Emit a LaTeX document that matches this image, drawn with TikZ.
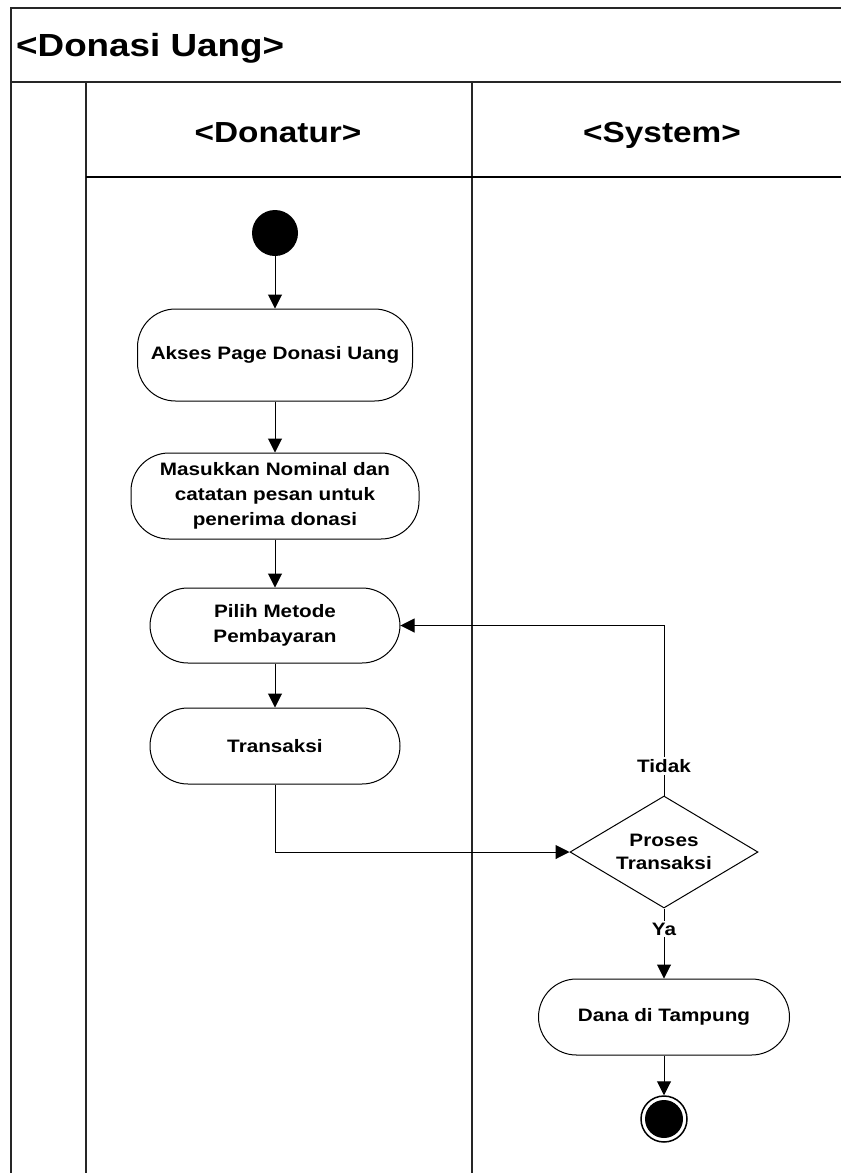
\documentclass[tikz,border=0pt]{standalone}
\usepackage{fontspec}
\setmainfont{Liberation Sans}[FakeStretch=1.15]
\usetikzlibrary{arrows.meta,shapes.geometric}
\begin{document}
\begin{tikzpicture}[x=1pt,y=-1pt,
  frame/.style={line width=1.6pt,draw=black!85},
  act/.style={draw,line width=1pt,rounded corners=38pt,align=center,font=\bfseries\fontsize{18}{25}\selectfont,inner sep=0pt},
  decision/.style={draw,line width=1pt,shape=diamond,aspect=1.68,minimum width=188pt,minimum height=112pt,inner sep=0pt,align=center,font=\bfseries\fontsize{18}{23}\selectfont},
  flow/.style={line width=1pt,-{Triangle[length=14pt,width=14pt]}},
  guard/.style={fill=white,font=\bfseries\fontsize{18}{22}\selectfont,inner sep=2pt},
  lanehead/.style={font=\bfseries\fontsize{29}{34}\selectfont,anchor=base,inner sep=0pt}]
\useasboundingbox (0,0) rectangle (841,1173);
% frame
\draw[frame] (11,1173) -- (11,8) -- (841,8);
\draw[frame] (11,82) -- (841,82);
\draw[frame] (86,82) -- (86,1173);
\draw[frame] (472,82) -- (472,1173);
\draw[line width=1.2pt] (86,177) -- (841,177);
% titles
\node[anchor=base west,inner sep=0pt,font=\bfseries\fontsize{32}{38}\selectfont] (title) at (16,56) {<Donasi Uang>};
\node[lanehead] (donatur) at (278,142) {<Donatur>};
\node[lanehead] (system) at (662,142) {<System>};
% nodes
\node[circle,fill=black,minimum size=46pt,inner sep=0pt] (start) at (275,233) {};
\node[act,minimum width=275pt,minimum height=92pt] (akses) at (275,355) {Akses Page Donasi Uang};
\node[act,minimum width=288pt,minimum height=86pt] (masuk) at (275,496) {Masukkan Nominal dan\\catatan pesan untuk\\penerima donasi};
\node[act,minimum width=250pt,minimum height=75pt] (pilih) at (275,625.5) {Pilih Metode\\Pembayaran};
\node[act,minimum width=250pt,minimum height=76pt] (trans) at (275,746) {Transaksi};
\node[decision] (proses) at (664,852) {Proses\\Transaksi};
\node[act,minimum width=251pt,minimum height=76pt] (dana) at (664,1017) {Dana di Tampung};
\node[circle,draw,line width=1.5pt,minimum size=46pt,inner sep=0pt] (end) at (664,1119) {};
\fill (end.center) circle (19pt);
% connectors
\draw[flow] (start) -- (akses);
\draw[flow] (akses) -- (masuk);
\draw[flow] (masuk) -- (pilih);
\draw[flow] (pilih) -- (trans);
\draw[flow] (trans.south) |- (proses.west);
\draw[flow] (proses.north) |- (pilih.east);
\draw[flow] (proses.south) -- (dana.north);
\draw[flow] (dana) -- (end);
\node[guard] (tidak) at (664,766) {Tidak};
\node[guard] (ya) at (664,929) {Ya};
\end{tikzpicture}
\end{document}
